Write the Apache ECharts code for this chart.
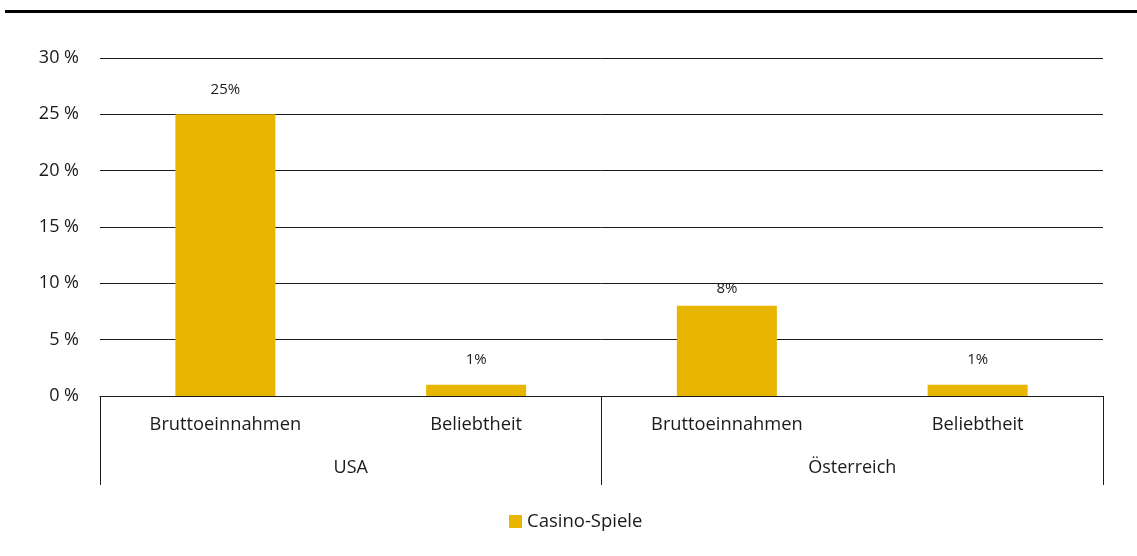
<!DOCTYPE html>
<html>
<head>
<meta charset="utf-8">
<script src="https://cdn.jsdelivr.net/npm/echarts@6/dist/echarts.min.js"></script>
<style>
  html, body { margin: 0; padding: 0; background: #fff; }
  #chart { width: 1137px; height: 556px; }
</style>
</head>
<body>
<div id="chart"></div>
<script>
// Metrics per country (inner axis) and the countries grouping them (outer axis)
const metrics = ['Bruttoeinnahmen', 'Beliebtheit', 'Bruttoeinnahmen', 'Beliebtheit'];
const countries = ['USA', 'Österreich'];
const seriesName = 'Casino-Spiele';
const casinoValues = [25, 1, 8, 1];

const FONT = '"Open Sans", "Noto Sans", sans-serif';
const TEXT = '#1a1a1a';
const LINE = '#1a1a1a';
const BAR = '#E8B500';

const chart = echarts.init(document.getElementById('chart'), null, { renderer: 'canvas' });

chart.setOption({
  animation: false,
  textStyle: { fontFamily: FONT, color: TEXT },
  graphic: [
    { type: 'rect', left: 5, top: 10, shape: { width: 1132, height: 3 }, style: { fill: '#000' } }
  ],
  grid: { left: 100, right: 34, top: 58, bottom: 160, containLabel: false },
  legend: {
    data: [seriesName],
    left: 504,
    top: 507,
    itemWidth: 13,
    itemHeight: 13,
    itemGap: 5,
    icon: 'rect',
    textStyle: { fontFamily: FONT, fontSize: 18.5, color: TEXT }
  },
  xAxis: [
    {
      type: 'category',
      data: metrics,
      position: 'bottom',
      axisLine: { show: true, lineStyle: { color: LINE, width: 1 } },
      axisTick: { show: false },
      axisLabel: { interval: 0, margin: 20, fontFamily: FONT, fontSize: 18.3, color: TEXT }
    },
    {
      type: 'category',
      data: countries,
      position: 'bottom',
      axisLine: { show: false },
      axisTick: { show: true, length: 89, lineStyle: { color: LINE, width: 1 } },
      axisLabel: { interval: 0, margin: 63, fontFamily: FONT, fontSize: 18, color: TEXT },
      splitLine: { show: false }
    }
  ],
  yAxis: {
    type: 'value',
    min: 0,
    max: 30,
    interval: 5,
    axisLine: { show: false },
    axisTick: { show: false },
    axisLabel: { margin: 21, formatter: '{value} %', fontFamily: FONT, fontSize: 18, color: TEXT },
    splitLine: { show: true, lineStyle: { color: LINE, width: 1 } }
  },
  series: [
    {
      name: seriesName,
      type: 'bar',
      xAxisIndex: 0,
      barWidth: 100,
      itemStyle: { color: BAR },
      label: {
        show: true,
        position: 'top',
        distance: 17,
        formatter: '{c}%',
        fontFamily: FONT,
        fontSize: 15,
        color: TEXT
      },
      data: casinoValues.map((v) => (
        v === 8 ? { value: v, label: { distance: 10 } } : v
      ))
    }
  ]
});
</script>
</body>
</html>
